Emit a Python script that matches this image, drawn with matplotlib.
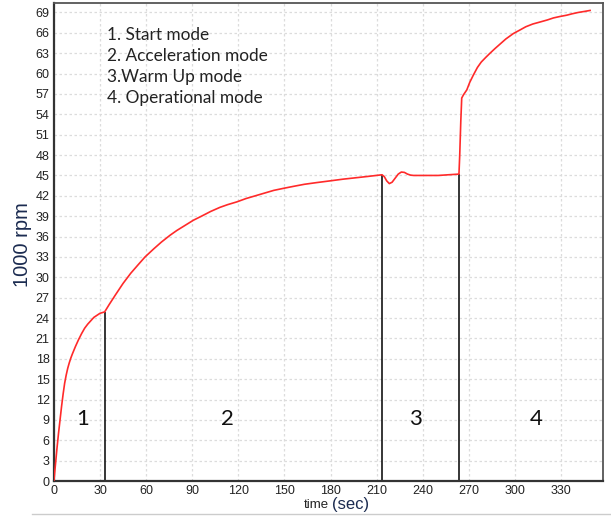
import numpy as np
import matplotlib
matplotlib.use("Agg")
import matplotlib.pyplot as plt
from matplotlib.lines import Line2D

# speed curve (time in s, speed in 1000 rpm)
time_s = [0, 0.5, 1, 2, 3, 4, 5, 6, 7, 8, 9, 10, 11, 12, 14, 16, 18, 20, 22, 24, 26, 28, 30, 33,
          36, 40, 45, 50, 55, 59.3, 65, 70, 75.6, 80, 85, 90.7, 96, 102, 108, 113, 118.9,
          125, 131, 137, 143, 149.3, 156, 163, 171, 179.6, 188, 196, 204, 213.5,
          215, 216.5, 218.2, 220, 222, 224, 226, 228, 230, 232, 234, 250, 263.5,
          264, 264.7, 265.3, 266.5, 268.6, 270.5, 272.9, 275.5, 278, 281, 283.7, 287, 290,
          294, 298.9, 303, 307, 311.5, 316.3, 321, 325, 329, 333.6, 337, 341, 345, 348.8]
rpm_k = [0, 1.2, 2.4, 4.8, 7.0, 9.0, 11.0, 12.8, 14.4, 15.6, 16.6, 17.4, 18.1, 18.7, 19.8,
         20.8, 21.7, 22.5, 23.1, 23.6, 24.1, 24.4, 24.7, 24.9,
         26.0, 27.4, 29.1, 30.6, 31.9, 33.0, 34.2, 35.2, 36.2, 36.9, 37.6, 38.4, 39.0, 39.7,
         40.3, 40.7, 41.1, 41.6, 42.0, 42.4, 42.8, 43.1, 43.4, 43.7, 43.95, 44.2, 44.45,
         44.65, 44.85, 45.1,
         44.8, 44.2, 43.8, 44.0, 44.6, 45.2, 45.5, 45.45, 45.2, 45.05, 45.0, 45.0, 45.2,
         48.0, 53.0, 56.4, 56.9, 57.6, 58.7, 59.8, 60.9, 61.7, 62.4, 63.0, 63.7, 64.3,
         65.1, 65.9, 66.4, 66.9, 67.3, 67.6, 67.9, 68.2, 68.4, 68.6, 68.8, 69.0, 69.15, 69.3]

# mode boundaries and the curve height where each marker line stops
bound_t = [33, 213.5, 263.5]
bound_h = [24.9, 45.1, 45.2]

mode_labels = ["1", "2", "3", "4"]
mode_x = [19, 113, 235.5, 313.5]
mode_y = 9.1

legend_lines = ["1. Start mode", "2. Acceleration mode",
                "3.Warm Up mode", "4. Operational mode"]

xticks = list(range(0, 331, 30))
yticks = list(range(0, 70, 3))

fig = plt.figure(figsize=(6.11, 5.18), dpi=100)
ax = fig.add_axes([0.0882, 0.0714, 0.8982, 0.9222])

ax.plot(time_s, rpm_k, color="#ff2a2a", lw=1.2, zorder=3)
ax.vlines(bound_t, 0, bound_h, color="black", lw=1.1, zorder=2)

ax.set_xlim(0, 357)
ax.set_ylim(0, 70.35)
ax.set_xticks(xticks)
ax.set_yticks(yticks)
ax.grid(True, color="#dcdcdc", ls=(0, (2, 2)), lw=0.9, zorder=0)
ax.tick_params(length=0, labelsize=9, pad=3, colors="#222222")
for lab in ax.get_xticklabels() + ax.get_yticklabels():
    lab.set_family("Liberation Sans")
for s in ["left", "bottom"]:
    ax.spines[s].set_color("#333333")
    ax.spines[s].set_linewidth(1.6)
for s in ["top", "right"]:
    ax.spines[s].set_color("#555555")
    ax.spines[s].set_linewidth(1.3)

for lab, x in zip(mode_labels, mode_x):
    ax.text(x, mode_y, lab, fontsize=16, family="Lato", ha="center", va="center", color="#111111")

for i, line in enumerate(legend_lines):
    fig.text(107 / 611, 1 - (35 + i * 21) / 518, line, fontsize=12.4, family="Lato",
             ha="left", va="center", color="#222222")

fig.text(23 / 611, 1 - 245 / 518, "1000 rpm", rotation=90, fontsize=14.5,
         family="Liberation Sans", color="#1b2b50", ha="center", va="center")
fig.text(316 / 611, 1 - 505 / 518, "time", fontsize=9.5, family="Liberation Sans",
         color="#222222", ha="center", va="center")
fig.text(351 / 611, 1 - 505 / 518, "(sec)", fontsize=12, family="Liberation Sans",
         color="#1b2b50", ha="center", va="center")

fig.add_artist(Line2D([32 / 611, 1], [1 - 514 / 518] * 2, color="#cccccc", lw=1))

fig.savefig("out.png", dpi=100)
